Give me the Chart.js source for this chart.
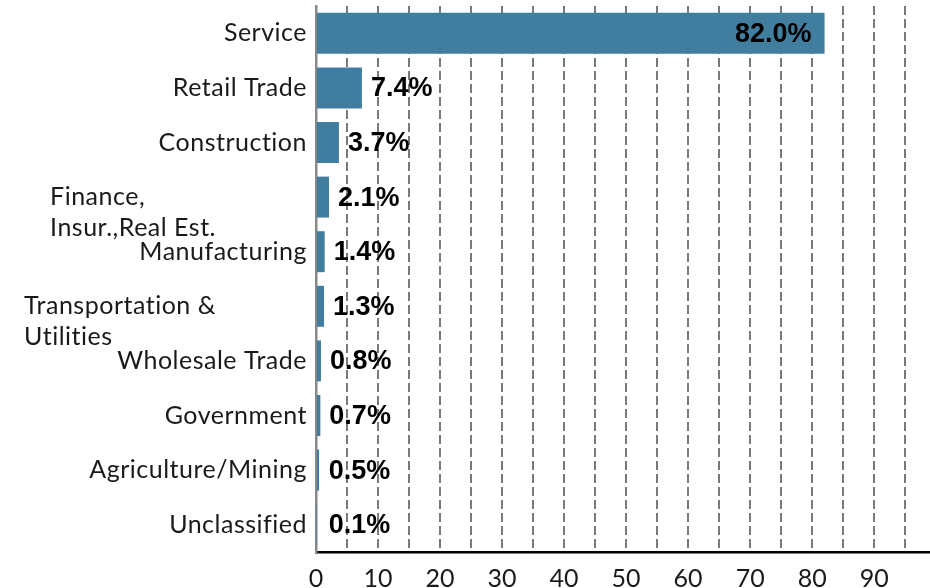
<!DOCTYPE html>
<html>
<head>
<meta charset="utf-8">
<script src="https://cdn.jsdelivr.net/npm/chart.js@4"></script>
<style>
  html, body { margin: 0; padding: 0; background: #fff; }
  #wrap { width: 930px; height: 588px; }
</style>
</head>
<body>
<div id="wrap"><canvas id="myChart"></canvas></div>
<script>
// datos del grafico
var categories = ['Service', 'Retail Trade', 'Construction', ['Finance,', 'Insur.,Real Est.'],
  'Manufacturing', ['Transportation &', 'Utilities'], 'Wholesale Trade', 'Government',
  'Agriculture/Mining', 'Unclassified'];
var shares = [82.0, 7.4, 3.7, 2.1, 1.4, 1.3, 0.8, 0.7, 0.5, 0.1];
var xTickLabels = [0, 10, 20, 30, 40, 50, 60, 70, 80, 90];

var labelFont = '25px Lato';
var valueFont = 'bold 27px "Liberation Sans"';

// dibuja las etiquetas de categoria y de valor
var labelPlugin = {
  id: 'labels',
  afterDatasetsDraw: function (chart) {
    var ctx = chart.ctx;
    var y = chart.scales.y;
    var x = chart.scales.x;
    var left = chart.chartArea.left;
    ctx.save();
    ctx.font = labelFont;
    ctx.letterSpacing = '0.5px';
    ctx.fillStyle = '#1a1a1a';
    ctx.textBaseline = 'middle';
    categories.forEach(function (c, i) {
      var py = y.getPixelForTick(i);
      if (Array.isArray(c)) {
        var w = Math.max.apply(null, c.map(function (s) { return ctx.measureText(s).width; }));
        ctx.textAlign = 'left';
        c.forEach(function (s, k) {
          ctx.fillText(s, left - 100 - w, py + k * 31);
        });
      } else {
        ctx.textAlign = 'right';
        ctx.fillText(c, left - 9, py);
      }
    });
    ctx.letterSpacing = '0px';
    ctx.font = valueFont;
    ctx.fillStyle = '#000';
    chart.getDatasetMeta(0).data.forEach(function (bar, i) {
      var txt = shares[i].toFixed(1) + '%';
      if (shares[i] > 50) {
        ctx.textAlign = 'right';
        ctx.fillText(txt, bar.x - 13, bar.y + 1);
      } else {
        ctx.textAlign = 'left';
        ctx.fillText(txt, Math.max(bar.x, x.getPixelForValue(0.6)) + 9, bar.y + 1);
      }
    });
    ctx.restore();
  }
};

var ctx = document.getElementById('myChart').getContext('2d');
var myChart = new Chart(ctx, {
  type: 'bar',
  data: {
    labels: categories,
    datasets: [{
      data: shares,
      backgroundColor: '#417d9f',
      barPercentage: 0.75,
      categoryPercentage: 1.0
    }]
  },
  options: {
    indexAxis: 'y',
    responsive: true,
    maintainAspectRatio: false,
    animation: false,
    layout: { padding: { top: 6, right: 0, left: 0, bottom: 0 } },
    plugins: { legend: { display: false }, tooltip: { enabled: false } },
    scales: {
      x: {
        min: 0,
        max: 99,
        afterBuildTicks: function (scale) {
          var t = [];
          for (var v = 0; v <= 95; v += 5) t.push({ value: v });
          scale.ticks = t;
        },
        afterFit: function (scale) { scale.height = 36; },
        grid: {
          color: function (c) { return c.tick && c.tick.value === 0 ? 'rgba(0,0,0,0)' : '#7a7a7a'; },
          lineWidth: 2,
          drawTicks: false
        },
        border: { color: '#000', width: 2.5, dash: [9, 4] },
        ticks: {
          autoSkip: false,
          maxRotation: 0,
          padding: 12,
          color: '#1a1a1a',
          font: { family: 'Lato', size: 25 },
          callback: function (v) { return xTickLabels.indexOf(v) >= 0 ? String(v) : ''; }
        }
      },
      y: {
        afterFit: function (scale) { scale.width = 316; },
        grid: { display: false },
        border: { color: '#888', width: 2.5 },
        ticks: { display: false }
      }
    }
  },
  plugins: [labelPlugin]
});
</script>
</body>
</html>
